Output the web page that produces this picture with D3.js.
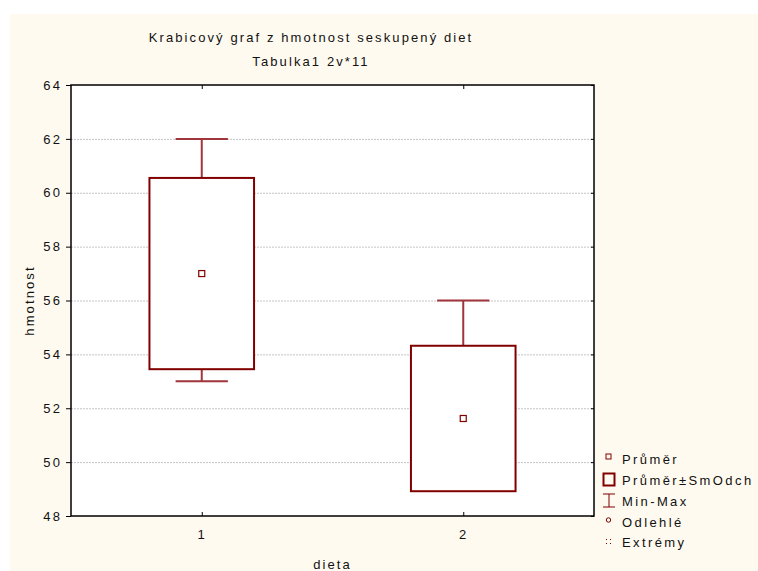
<!DOCTYPE html>
<html><head><meta charset="utf-8">
<script src="https://cdn.jsdelivr.net/npm/d3@7/dist/d3.min.js"></script>
<style>body{margin:0;background:#fff}svg{display:block;font-family:"Liberation Sans",Arial,sans-serif}</style>
</head><body><svg id="c" width="758" height="571"></svg>
<script>
const titleLines = ["Krabicový graf z hmotnost seskupený diet", "Tabulka1 2v*11"];
const categories = ["1", "2"];
const means = [57.0, 51.62];
const sds = [3.55, 2.7];
const mins = [53, 49];
const maxs = [62, 56];
const yTicks = [48, 50, 52, 54, 56, 58, 60, 62, 64];
const xLabel = "dieta";
const yLabel = "hmotnost";
const legendLabels = ["Průměr", "Průměr±SmOdch", "Min-Max", "Odlehlé", "Extrémy"];

const svg = d3.select("#c");
const W = 758, H = 571;
const m = {l: 71, r: 594, t: 85, b: 516};
const dark = "#800000", whisk = "#a0353c";
const ls = "2.1px", fs = "13px";

svg.append("rect").attr("x", 10).attr("y", 14).attr("width", W - 10).attr("height", H - 14).attr("fill", "#fffaf0");
svg.append("rect").attr("x", m.l).attr("y", m.t).attr("width", m.r - m.l).attr("height", m.b - m.t).attr("fill", "#fff");

const x = d3.scalePoint().domain(categories).range([m.l, m.r]).padding(0.5);
const y = d3.scaleLinear().domain([48, 64]).range([m.b, m.t]);
const step = x.step();

// grid
svg.append("g").selectAll("line").data(yTicks.filter(t => t > 48 && t < 64)).join("line")
  .attr("x1", m.l).attr("x2", m.r).attr("y1", d => y(d) + 0.5).attr("y2", d => y(d) + 0.5)
  .attr("stroke", "#c4c4c4").attr("stroke-width", 1).attr("stroke-dasharray", "2,1");

// axes
const yAx = svg.append("g").attr("transform", `translate(${m.l},0)`)
  .call(d3.axisLeft(y).tickValues(yTicks).tickSize(5).tickPadding(4).tickFormat(d3.format("d")));
const yAxR = svg.append("g").attr("transform", `translate(${m.r},0)`)
  .call(d3.axisLeft(y).tickValues(yTicks).tickSize(3).tickFormat(""));
const xAx = svg.append("g").attr("transform", `translate(0,${m.b})`)
  .call(d3.axisBottom(x).tickSize(-4).tickPadding(14));
const xAxT = svg.append("g").attr("transform", `translate(0,${m.t})`)
  .call(d3.axisTop(x).tickSize(-4).tickFormat(""));
[yAx, yAxR, xAx, xAxT].forEach(g => {
  g.select(".domain").remove();
  g.selectAll(".tick line").attr("stroke", "#000");
  g.selectAll("text").attr("fill", "#111").style("font-size", fs).style("letter-spacing", ls);
});

// frame
svg.append("rect").attr("x", m.l).attr("y", m.t).attr("width", m.r - m.l).attr("height", m.b - m.t)
  .attr("fill", "none").attr("stroke", "#000").attr("stroke-width", 1.5);

// boxes
const data = categories.map((c, i) => ({c, mean: means[i], sd: sds[i], min: mins[i], max: maxs[i]}));
const g = svg.append("g");
data.forEach(d => {
  const cx = x(d.c), bw = step * 0.4, cw = step * 0.2;
  const top = y(d.mean + d.sd), bot = y(d.mean - d.sd);
  g.append("line").attr("x1", cx).attr("x2", cx).attr("y1", y(d.max)).attr("y2", top).attr("stroke", whisk).attr("stroke-width", 2);
  if (d.min < d.mean - d.sd) g.append("line").attr("x1", cx).attr("x2", cx).attr("y1", bot).attr("y2", y(d.min)).attr("stroke", whisk).attr("stroke-width", 2);
  g.append("line").attr("x1", cx - cw / 2).attr("x2", cx + cw / 2).attr("y1", y(d.max)).attr("y2", y(d.max)).attr("stroke", whisk).attr("stroke-width", 2);
  if (d.min < d.mean - d.sd) g.append("line").attr("x1", cx - cw / 2).attr("x2", cx + cw / 2).attr("y1", y(d.min)).attr("y2", y(d.min)).attr("stroke", whisk).attr("stroke-width", 2);
  g.append("rect").attr("x", cx - bw / 2).attr("y", top).attr("width", bw).attr("height", bot - top)
    .attr("fill", "#fff").attr("stroke", dark).attr("stroke-width", 2);
  g.append("rect").attr("x", cx - 3).attr("y", y(d.mean) - 3).attr("width", 6).attr("height", 6)
    .attr("fill", "#fff").attr("stroke", dark).attr("stroke-width", 1.2);
});

// titles
titleLines.forEach((t, i) => {
  svg.append("text").attr("x", 311).attr("y", 42 + i * 24).attr("text-anchor", "middle")
    .style("font-size", fs).style("letter-spacing", ls).attr("fill", "#111").text(t);
});
svg.append("text").attr("x", (m.l + m.r) / 2).attr("y", 569).attr("text-anchor", "middle")
  .style("font-size", fs).style("letter-spacing", ls).attr("fill", "#111").text(xLabel);
svg.append("text").attr("transform", `translate(34,${(m.t + m.b) / 2}) rotate(-90)`).attr("text-anchor", "middle")
  .style("font-size", fs).style("letter-spacing", ls).attr("fill", "#111").text(yLabel);

// legend
const ly = [459, 480, 501, 522, 542];
const L = svg.append("g");
legendLabels.forEach((t, i) => {
  L.append("text").attr("x", 622).attr("y", ly[i] + 5).style("font-size", fs).style("letter-spacing", "2.4px").attr("fill", "#111").text(t);
});
L.append("rect").attr("x", 606).attr("y", ly[0] - 5).attr("width", 5).attr("height", 5).attr("fill", "none").attr("stroke", dark).attr("stroke-width", 1);
L.append("rect").attr("x", 603.5).attr("y", ly[1] - 6.5).attr("width", 11).attr("height", 12).attr("fill", "none").attr("stroke", dark).attr("stroke-width", 2);
L.append("line").attr("x1", 609).attr("x2", 609).attr("y1", ly[2] - 7).attr("y2", ly[2] + 6).attr("stroke", dark).attr("stroke-width", 1);
L.append("line").attr("x1", 603).attr("x2", 615).attr("y1", ly[2] - 7).attr("y2", ly[2] - 7).attr("stroke", dark).attr("stroke-width", 1);
L.append("line").attr("x1", 603).attr("x2", 615).attr("y1", ly[2] + 6).attr("y2", ly[2] + 6).attr("stroke", dark).attr("stroke-width", 1);
L.append("circle").attr("cx", 608.5).attr("cy", ly[3] - 2).attr("r", 2.2).attr("fill", "none").attr("stroke", dark).attr("stroke-width", 1);
[[606, -3], [606, 1], [610, -3], [610, 1]].forEach(p => {
  L.append("rect").attr("x", p[0]).attr("y", ly[4] + p[1]).attr("width", 1).attr("height", 1).attr("fill", dark);
});
</script></body></html>
